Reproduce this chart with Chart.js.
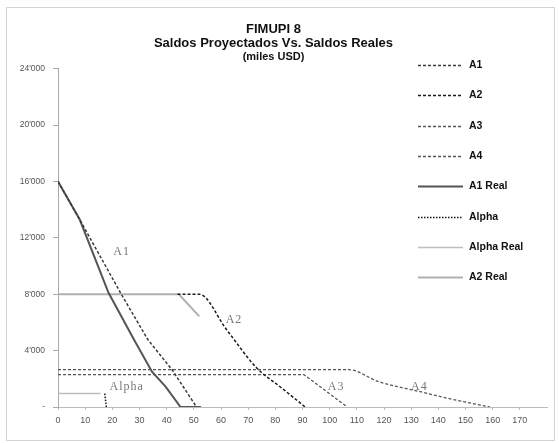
<!DOCTYPE html>
<html>
<head>
<meta charset="utf-8">
<script src="https://cdn.jsdelivr.net/npm/chart.js@4.4.1/dist/chart.umd.min.js"></script>
<style>
  html, body { margin: 0; padding: 0; background: #fff; }
</style>
</head>
<body>
<canvas id="fimupiChart" width="559" height="443"></canvas>
<script>
// x = meses, y = saldo (miles USD)
const a1X = [0, 8, 23, 33, 42, 51];
const a1Y = [16000, 13300, 8100, 4800, 2640, 0];

const a2X = [44, 52, 62, 73, 82, 91];
const a2Y = [8000, 8000, 5500, 2800, 1400, 0];

const a3X = [0, 90.5, 106.5];
const a3Y = [2300, 2300, 0];

const a4X = [0, 107, 118, 133, 145, 159];
const a4Y = [2650, 2650, 1800, 1100, 550, 0];

const a1RealX = [0, 8, 18.6, 28, 34.6, 39.6, 45.1, 52.6];
const a1RealY = [16000, 13300, 8100, 4770, 2510, 1450, 0, 0];

const alphaX = [17.2, 17.8];
const alphaY = [950, 0];

const alphaRealX = [0, 15.7];
const alphaRealY = [950, 950];

const a2RealX = [0, 44.5, 52];
const a2RealY = [8000, 8000, 6430];

const xTicks = [0, 10, 20, 30, 40, 50, 60, 70, 80, 90, 100, 110, 120, 130, 140, 150, 160, 170];
const yTicks = [0, 4000, 8000, 12000, 16000, 20000, 24000];

// etiquetas dentro del grafico
const noteText = ['A1', 'A2', 'A3', 'A4', 'Alpha'];
const noteX = [23.4, 64.8, 102.4, 133, 25.3];
const noteY = [11000, 6200, 1450, 1450, 1450];

function pts(xs, ys) {
    return xs.map((x, i) => ({ x: x, y: ys[i] }));
}

function fmtMiles(v) {
    if (v === 0) return '-';
    return String(v).replace(/\B(?=(\d{3})+(?!\d))/g, "'");
}

const frame = {
    id: 'frame',
    beforeDraw(chart) {
        const ctx = chart.ctx;
        ctx.save();
        ctx.strokeStyle = '#d4d4d4';
        ctx.lineWidth = 1;
        ctx.strokeRect(6.5, 7.5, 548, 433);
        ctx.restore();
    }
};

const notes = {
    id: 'notes',
    afterDatasetsDraw(chart) {
        const ctx = chart.ctx;
        const xs = chart.scales.x, ys = chart.scales.y;
        ctx.save();
        ctx.font = '12px "Liberation Serif"';
        ctx.letterSpacing = '1px';
        ctx.fillStyle = '#777';
        ctx.textAlign = 'center';
        ctx.textBaseline = 'middle';
        noteText.forEach((t, i) => {
            ctx.fillText(t, xs.getPixelForValue(noteX[i]), ys.getPixelForValue(noteY[i]));
        });
        ctx.restore();
    }
};

const sideLegend = {
    id: 'sideLegend',
    afterDraw(chart) {
        const ctx = chart.ctx;
        ctx.save();
        ctx.font = 'bold 10.5px "Liberation Sans"';
        ctx.textBaseline = 'middle';
        chart.data.datasets.forEach((ds, i) => {
            const y = Math.round(65 + i * 30.3) + 0.5;
            ctx.beginPath();
            ctx.setLineDash(ds.borderDash || []);
            ctx.strokeStyle = ds.borderColor;
            ctx.lineWidth = ds.borderWidth;
            ctx.moveTo(418, y);
            ctx.lineTo(463, y);
            ctx.stroke();
            ctx.setLineDash([]);
            ctx.fillStyle = '#111';
            ctx.fillText(ds.label, 469, y);
        });
        ctx.restore();
    }
};

function line(label, xs, ys, color, width, dash, smooth) {
    return {
        label: label,
        data: pts(xs, ys),
        borderColor: color,
        backgroundColor: color,
        borderWidth: width,
        borderDash: dash,
        pointRadius: 0,
        fill: false,
        cubicInterpolationMode: smooth ? 'monotone' : 'default',
        tension: 0
    };
}

new Chart(document.getElementById('fimupiChart').getContext('2d'), {
    type: 'line',
    data: {
        datasets: [
            line('A1', a1X, a1Y, '#3a3a3a', 1.5, [3, 2], false),
            line('A2', a2X, a2Y, '#1a1a1a', 1.5, [3, 2], true),
            line('A3', a3X, a3Y, '#555', 1.3, [3, 2], false),
            line('A4', a4X, a4Y, '#555', 1.3, [3, 2], true),
            line('A1 Real', a1RealX, a1RealY, '#555', 2, [], false),
            line('Alpha', alphaX, alphaY, '#111', 1.5, [1.5, 1.5], false),
            line('Alpha Real', alphaRealX, alphaRealY, '#bdbdbd', 1.5, [], false),
            line('A2 Real', a2RealX, a2RealY, '#b0b0b0', 2, [], false)
        ]
    },
    options: {
        responsive: false,
        animation: false,
        layout: { padding: { left: 0, right: 12, top: 0, bottom: 14 } },
        plugins: {
            legend: { display: false },
            tooltip: { enabled: false },
            title: {
                display: true,
                text: ['FIMUPI 8', 'Saldos Proyectados Vs. Saldos Reales'],
                color: '#111',
                font: { family: 'Liberation Sans', size: 13, weight: 'bold', lineHeight: 1.1 },
                padding: { top: 22, bottom: 0 }
            },
            subtitle: {
                display: true,
                text: '(miles USD)',
                color: '#111',
                font: { family: 'Liberation Sans', size: 11, weight: 'bold', lineHeight: 1.1 },
                padding: { top: 0, bottom: 6 }
            }
        },
        scales: {
            x: {
                type: 'linear',
                min: 0,
                max: 180,
                afterBuildTicks: s => { s.ticks = xTicks.map(v => ({ value: v })); },
                afterFit: s => { s.height = 22; },
                ticks: {
                    autoSkip: false,
                    maxRotation: 0,
                    padding: 5,
                    color: '#555',
                    font: { family: 'Liberation Sans', size: 9 }
                },
                grid: { drawOnChartArea: false, tickLength: 3, color: '#bbb' },
                border: { color: '#bbb' }
            },
            y: {
                min: 0,
                max: 24000,
                afterBuildTicks: s => { s.ticks = yTicks.map(v => ({ value: v })); },
                afterFit: s => { s.width = 58; },
                ticks: {
                    callback: v => fmtMiles(v),
                    padding: 8,
                    color: '#555',
                    font: { family: 'Liberation Sans', size: 8.5 }
                },
                grid: { drawOnChartArea: false, tickLength: 5, color: '#aaa' },
                border: { color: '#aaa' }
            }
        }
    },
    plugins: [frame, notes, sideLegend]
});
</script>
</body>
</html>
